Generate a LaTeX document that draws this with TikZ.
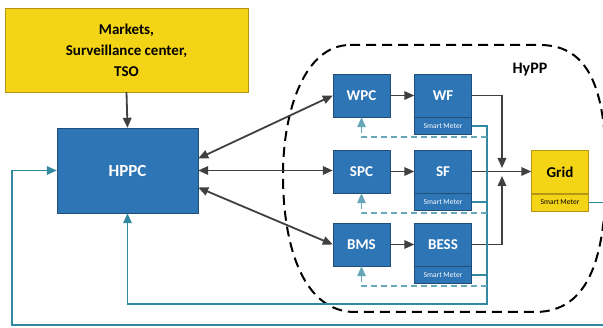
\documentclass[tikz,border=0pt]{standalone}
\usepackage{fontspec}
\setmainfont{Carlito}
\usetikzlibrary{arrows.meta,positioning}
\definecolor{boxblue}{RGB}{46,117,182}
\definecolor{boxedge}{RGB}{31,78,121}
\definecolor{boxyellow}{RGB}{244,212,22}
\definecolor{yedge}{RGB}{180,150,20}
\definecolor{arrowgray}{RGB}{64,64,64}
\definecolor{lineteal}{RGB}{49,138,160}
\tikzset{
  ctrl/.style={draw=boxedge, fill=boxblue, text=white, font=\fontsize{15}{18}\selectfont\bfseries, minimum width=57pt, minimum height=43pt, inner sep=0pt},
  meter/.style={draw=boxedge, fill=boxblue, text=white, font=\fontsize{7.5}{8}\selectfont, minimum width=57pt, minimum height=17pt, inner sep=0pt},
  flow/.style={draw=arrowgray, line width=1.8pt},
  meas/.style={draw=lineteal, line width=1.6pt},
  setp/.style={draw=lineteal!75, line width=1.4pt, dash pattern=on 6pt off 4pt},
}

\begin{document}
\begin{tikzpicture}[x=1pt,y=-1pt,>={Triangle[length=10pt,width=8.5pt]}]
  \useasboundingbox (0,0) rectangle (603,328);
  % HyPP boundary
  \draw[line width=2pt, dash pattern=on 10pt off 6pt] (350,45) -- (540,45)
    .. controls (592,45) and (606,95) .. (606,172)
    .. controls (606,255) and (590,312) .. (535,312) -- (355,312)
    .. controls (305,312) and (283,250) .. (283,175)
    .. controls (283,110) and (305,45) .. (350,45);
  \node[font=\fontsize{16}{18}\selectfont\bfseries] (hypp) at (530,70) {HyPP};

  \node[draw=yedge, fill=boxyellow, minimum width=243pt, minimum height=84pt, align=center,
        font=\fontsize{15}{21}\selectfont\bfseries] (mkt) at (126.5,50) {Markets,\\Surveillance center,\\TSO};
  \node[ctrl, minimum width=141pt, minimum height=85pt, font=\fontsize{17}{20}\selectfont\bfseries] (hppc) at (127.5,170.5) {HPPC};

  \node[ctrl] (wpc) at (361.5,95.5) {WPC};
  \node[ctrl] (spc) at (361.5,171.5) {SPC};
  \node[ctrl] (bms) at (361.5,244.5) {BMS};
  \node[ctrl] (wf) at (443,95.5) {WF};
  \node[ctrl] (sf) at (443,171.5) {SF};
  \node[ctrl] (bess) at (443,244.5) {BESS};
  \node[meter, below=0pt of wf] (wfsm) {Smart Meter};
  \node[meter, below=0pt of sf] (sfsm) {Smart Meter};
  \node[meter, below=0pt of bess] (besssm) {Smart Meter};
  \node[ctrl, draw=yedge, fill=boxyellow, text=black] (grid) at (560,172) {Grid};
  \node[meter, draw=yedge, fill=boxyellow, text=black, below=0pt of grid] (gridsm) {Smart Meter};

  \coordinate (jn) at (502,172);
  \coordinate (bus) at (487,304);
  \coordinate (rb) at (607,325);
  \coordinate (lb) at (12,325);
  \coordinate (wpcd) at ([yshift=-20pt]wpc.south);
  \coordinate (spcd) at ([yshift=-20pt]spc.south);
  \coordinate (bmsd) at ([yshift=-20pt]bms.south);

  % control links
  \draw[flow,->] (mkt.south) -- (hppc.north);
  \draw[flow,<->] ([yshift=12pt]hppc.east) -- (wpc.west);
  \draw[flow,<->] (hppc.east) -- (hppc.east -| spc.west);
  \draw[flow,<->] ([yshift=-17pt]hppc.east) -- (bms.west);
  \draw[flow,->] (wpc) -- (wf);
  \draw[flow,->] (spc) -- (sf);
  \draw[flow,->] (bms) -- (bess);

  % power flow
  \draw[flow,->] (sf.east) -- (sf.east -| grid.west);
  \draw[flow,->] (wf.east) -| ([yshift=4pt]jn);
  \draw[flow,->] (bess.east) -| ([yshift=-4pt]jn);

  % measurements
  \draw[meas,->] (wfsm.east) -| (bus) -| (hppc.south);
  \draw[meas] (sfsm.east) -- (sfsm.east -| bus);
  \draw[meas] (besssm.east) -- (besssm.east -| bus);
  \draw[meas,->] (gridsm.east) -| (rb) -- (lb) |- (hppc.west);

  % set points
  \draw[setp,->] (wpcd -| bus) -- (wpcd) -- (wpc.south);
  \draw[setp,->] (spcd -| bus) -- (spcd) -- (spc.south);
  \draw[setp,->] (bmsd -| bus) -- (bmsd) -- (bms.south);
\end{tikzpicture}
\end{document}
